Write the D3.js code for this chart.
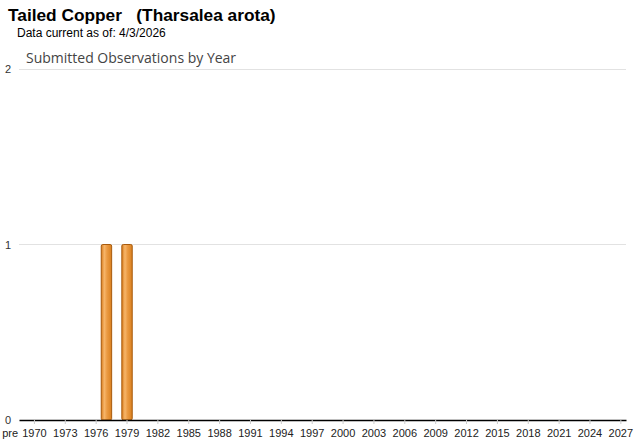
<!DOCTYPE html>
<html>
<head>
<meta charset="utf-8">
<script src="https://cdn.jsdelivr.net/npm/d3@7"></script>
<style>
body{margin:0;background:#fff;}
svg{display:block;font-family:"Liberation Sans",Arial,sans-serif;}
</style>
</head>
<body>
<svg id="chart" width="640" height="442"></svg>
<script>
const titleText = "Tailed Copper   (Tharsalea arota)";
const dateText = "Data current as of: 4/3/2026";
const subtitleText = "Submitted Observations by Year";
const years = ["pre"].concat(d3.range(1970, 2028).map(String));
const observed = [{year: "1977", count: 1}, {year: "1979", count: 1}];
const counts = years.map(y => { const o = observed.find(d => d.year === y); return o ? o.count : 0; });
const xTickLabels = ["pre"].concat(d3.range(1970, 2028, 3).map(String));
const yTicks = [0, 1, 2];

const svg = d3.select("#chart");
const mLeft = 19, mRight = 626, mTop = 69, mBottom = 420;

const x = d3.scaleBand().domain(years).range([mLeft, mRight]).padding(0);
const y = d3.scaleLinear().domain([0, 2]).range([mBottom, mTop]);

const defs = svg.append("defs");
const grad = defs.append("linearGradient").attr("id", "barGrad").attr("x1", "0").attr("x2", "1").attr("y1", "0").attr("y2", "0");
grad.append("stop").attr("offset", "0%").attr("stop-color", "#d97c1c");
grad.append("stop").attr("offset", "30%").attr("stop-color", "#f6b56a");
grad.append("stop").attr("offset", "55%").attr("stop-color", "#eb9a42");
grad.append("stop").attr("offset", "100%").attr("stop-color", "#d9801f");

svg.append("text").attr("x", 8).attr("y", 21).attr("font-size", 17.3).attr("font-weight", "bold").attr("fill", "#000").style("white-space", "pre").text(titleText);
svg.append("text").attr("x", 17).attr("y", 37).attr("font-size", 12).attr("fill", "#000").text(dateText);
svg.append("text").attr("x", 26).attr("y", 63).attr("font-size", 14).attr("fill", "#444").attr("font-family", "'Open Sans','DejaVu Sans',sans-serif").text(subtitleText);

// gridlines
svg.append("g").selectAll("line").data(yTicks.filter(d => d > 0)).join("line")
  .attr("x1", mLeft).attr("x2", mRight).attr("y1", d => y(d)).attr("y2", d => y(d))
  .attr("stroke", "#e2e2e2").attr("stroke-width", 1).attr("shape-rendering", "crispEdges");

// y labels
svg.append("g").selectAll("text").data(yTicks).join("text")
  .attr("x", 11).attr("y", d => y(d) + 4).attr("text-anchor", "end")
  .attr("font-size", 11).attr("fill", "#333").text(d => d);

// bars
svg.append("g").selectAll("rect").data(years.map((yr, i) => ({year: yr, count: counts[i]})).filter(d => d.count > 0)).join("rect")
  .attr("x", d => x(d.year) + x.bandwidth() / 2 - 5.2)
  .attr("width", 10.4)
  .attr("y", d => y(d.count))
  .attr("height", d => y(0) - y(d.count))
  .attr("rx", 1.5)
  .attr("fill", "url(#barGrad)")
  .attr("stroke", "#a85a0c").attr("stroke-width", 1);

// x axis
const xAxis = d3.axisBottom(x).tickValues(xTickLabels).tickSize(4).tickSizeOuter(0);
const gx = svg.append("g").attr("transform", `translate(0,${mBottom})`).call(xAxis);
gx.select(".domain").attr("stroke", "#000").attr("stroke-width", 1.6);
gx.selectAll(".tick line").attr("stroke", "#ccc");
gx.selectAll(".tick text").attr("font-size", 11).attr("fill", "#222").attr("dy", "0.9em")
  .attr("font-family", "'Liberation Sans',Arial,sans-serif");
gx.selectAll(".tick").filter(d => d === "pre").select("text").attr("text-anchor", "end").attr("x", -6);
gx.selectAll(".tick").filter(d => d === "pre").select("line").remove();
</script>
</body>
</html>
